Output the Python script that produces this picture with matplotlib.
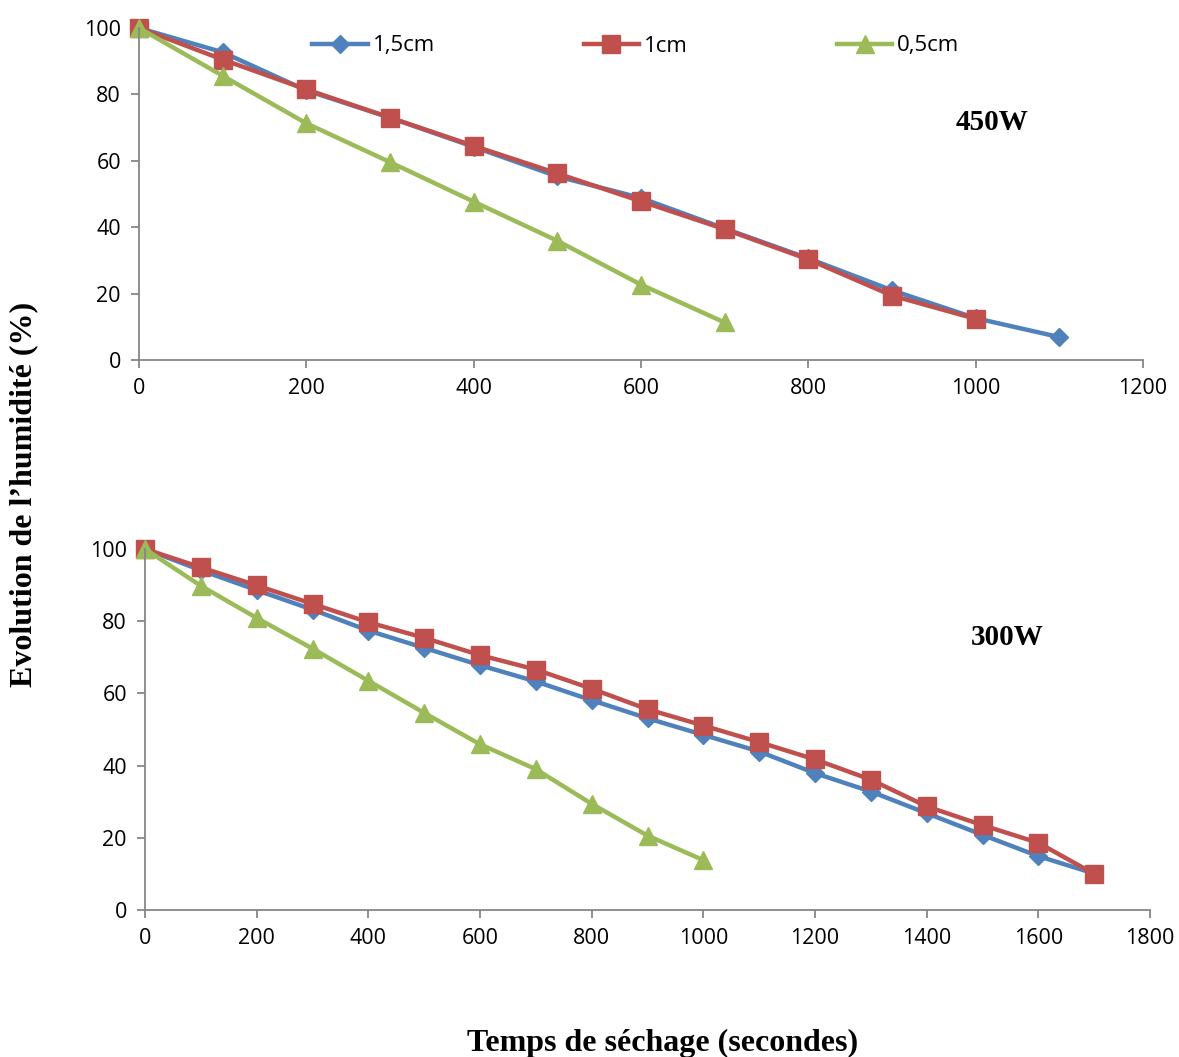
import matplotlib.pyplot as plt

# 450W
t_450 = [0, 100, 200, 300, 400, 500, 600, 700, 800, 900, 1000, 1100]
h15_450 = [100, 92.7, 81.2, 73, 64.2, 55.3, 48.8, 39.6, 30.6, 21, 12.6, 6.9]
h1_450 = [100, 90.5, 81.5, 73, 64.5, 56.2, 47.8, 39.4, 30.3, 19.4, 12.4]
h05_450 = [100, 85.6, 71.3, 59.6, 47.7, 35.9, 22.7, 11.3]

# 300W
t_300 = [0, 100, 200, 300, 400, 500, 600, 700, 800, 900, 1000, 1100,
         1200, 1300, 1400, 1500, 1600, 1700]
h15_300 = [100, 94.1, 88.6, 83.2, 77.4, 72.6, 67.8, 63.3, 58.1, 53.1,
           48.5, 43.9, 37.9, 32.8, 26.8, 20.8, 14.9, 10.1]
h1_300 = [100, 94.9, 89.9, 84.8, 79.7, 75.4, 70.6, 66.6, 61.3, 55.6,
          51.1, 46.5, 41.7, 36.1, 28.7, 23.5, 18.6, 10.0]
h05_300 = [100, 89.8, 80.9, 72.4, 63.5, 54.6, 45.9, 39.0, 29.4, 20.6, 13.8]

labels = ['1,5cm', '1cm', '0,5cm']
colors = ['#4F81BD', '#C0504D', '#9BBB59']
markers = ['D', 's', '^']
msizes = [9.5, 12.5, 13]

grey = '#868686'
tick_font = 'Open Sans'
serif = 'Liberation Serif'

fig = plt.figure(figsize=(11.79, 10.57), dpi=100)
ax1 = fig.add_axes([0.1179, 0.6594, 0.8516, 0.3141])
ax2 = fig.add_axes([0.1230, 0.1391, 0.8524, 0.3415])


def style(ax, xmax):
    ax.set_xlim(0, xmax)
    ax.set_ylim(0, 100)
    ax.set_xticks(range(0, xmax + 1, 200))
    ax.set_yticks(range(0, 101, 20))
    for s in ['top', 'right']:
        ax.spines[s].set_visible(False)
    for s in ['left', 'bottom']:
        ax.spines[s].set_color(grey)
        ax.spines[s].set_linewidth(1.3)
    ax.tick_params(direction='out', length=6, width=1.3, color=grey,
                   labelsize=15.5, pad=7)
    for lb in ax.get_xticklabels() + ax.get_yticklabels():
        lb.set_fontfamily(tick_font)


series_450 = [(t_450[:len(h15_450)], h15_450), (t_450[:len(h1_450)], h1_450),
              (t_450[:len(h05_450)], h05_450)]
series_300 = [(t_300[:len(h15_300)], h15_300), (t_300[:len(h1_300)], h1_300),
              (t_300[:len(h05_300)], h05_300)]

lines = []
for (x, y), c, m, ms, lab in zip(series_450, colors, markers, msizes, labels):
    ln, = ax1.plot(x, y, color=c, lw=3.2, marker=m, markersize=ms,
                   label=lab, clip_on=False)
    lines.append(ln)
for (x, y), c, m, ms in zip(series_300, colors, markers, msizes):
    ax2.plot(x, y, color=c, lw=3.2, marker=m, markersize=ms, clip_on=False)

style(ax1, 1200)
style(ax2, 1800)

ax1.text(1020, 71.5, '450W', fontsize=21, fontweight='bold', family=serif,
         ha='center', va='center')
ax2.text(1545, 75.5, '300W', fontsize=21, fontweight='bold', family=serif,
         ha='center', va='center')

fig.legend(handles=lines, labels=labels, ncol=3, frameon=False,
           loc='center left', bbox_to_anchor=(312 / 1179, 1 - 46 / 1057),
           borderpad=0, borderaxespad=0, handlelength=2.5, handletextpad=0.22,
           columnspacing=6.7, prop={'family': tick_font, 'size': 16})

fig.text(0.02, 0.532, 'Evolution de l\u2019humidit\u00e9 (%)', rotation=90,
         fontsize=23, fontweight='bold', family=serif, ha='center', va='center')
fig.text(0.562, 0.013, 'Temps de s\u00e9chage (secondes)', fontsize=23,
         fontweight='bold', family=serif, ha='center', va='center')

fig.savefig('out.png', dpi=100)
